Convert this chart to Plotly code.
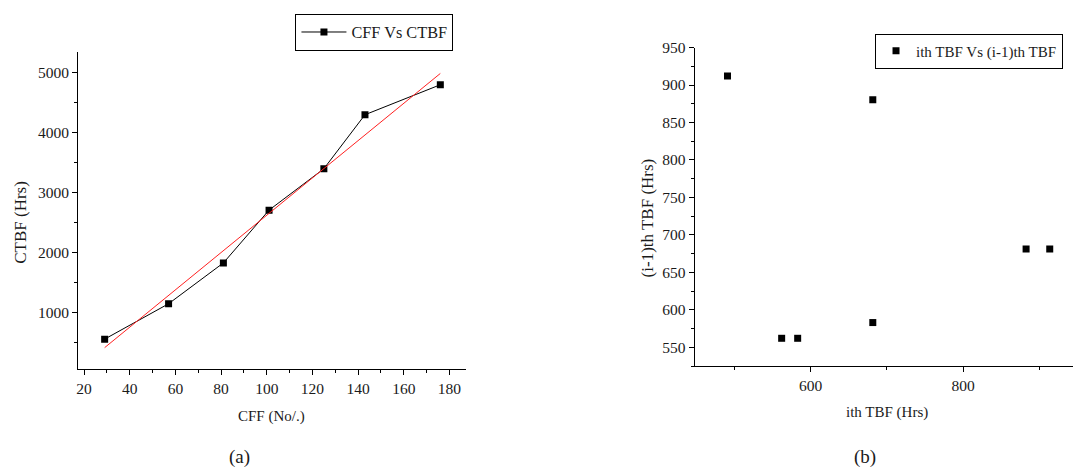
import numpy as np
import plotly.graph_objects as go

# ---- data ----
cff = [29, 57, 81, 101, 125, 143, 176]
ctbf = [560, 1150, 1830, 2710, 3400, 4300, 4800]

tbf_i = [491, 562, 583, 681.5, 681.5, 882.5, 913.5]
tbf_prev = [912, 562, 562, 880.5, 583, 681, 681]

W, H = 1073, 469
FONT = "Liberation Serif"
TXT = "#1a1a1a"
TICK_FS = 15.5
FS = 15


def px(x):
    return x / W


def py(y):
    return 1 - y / H


slope, intercept = np.polyfit(cff, ctbf, 1)
fit_x = [cff[0], cff[-1]]
fit_y = [slope * v + intercept for v in fit_x]

fig = go.Figure()
fig.add_trace(go.Scatter(
    x=cff, y=ctbf, mode="lines+markers", name="CFF Vs CTBF",
    line=dict(color="black", width=1),
    marker=dict(symbol="square", size=7, color="black"),
    xaxis="x", yaxis="y", legend="legend"))
fig.add_trace(go.Scatter(
    x=fit_x, y=fit_y, mode="lines", showlegend=False,
    line=dict(color="#ff2020", width=1), xaxis="x", yaxis="y"))
fig.add_trace(go.Scatter(
    x=tbf_i, y=tbf_prev, mode="markers", name="ith TBF Vs (i-1)th TBF",
    marker=dict(symbol="square", size=7, color="black"),
    xaxis="x2", yaxis="y2", legend="legend2"))

axis_common = dict(
    showgrid=False, zeroline=False, showline=True, linecolor="black",
    linewidth=1, ticks="outside", ticklen=5, tickcolor="black", tickwidth=1,
    tickfont=dict(family=FONT, size=TICK_FS, color=TXT), mirror=False,
)

fig.update_layout(
    width=W, height=H, margin=dict(l=0, r=0, t=0, b=0),
    paper_bgcolor="white", plot_bgcolor="white",
    font=dict(family=FONT, size=FS, color=TXT),
    xaxis=dict(domain=[px(76.3), px(465)], range=[17.4, 187.3], anchor="y",
               tick0=20, dtick=20,
               minor=dict(dtick=10, ticks="outside", ticklen=3, tickcolor="black"),
               **axis_common),
    yaxis=dict(domain=[py(367.3), py(44)], range=[58, 5343], anchor="x",
               tick0=0, dtick=1000,
               minor=dict(dtick=500, ticks="outside", ticklen=3, tickcolor="black"),
               **axis_common),
    xaxis2=dict(domain=[px(694), 1.0], range=[448, 944], anchor="y2",
                tick0=0, dtick=200,
                minor=dict(dtick=100, ticks="outside", ticklen=3, tickcolor="black"),
                **axis_common),
    yaxis2=dict(domain=[py(364), py(39.3)], range=[525, 950], anchor="x2",
                tick0=0, dtick=50,
                minor=dict(dtick=25, ticks="outside", ticklen=3, tickcolor="black"),
                **axis_common),
    legend=dict(x=px(294), xanchor="left", y=py(5), yanchor="top",
                bordercolor="black", borderwidth=1, bgcolor="white",
                itemwidth=45,
                font=dict(family=FONT, size=16.3, color=TXT)),
    legend2=dict(x=px(1063), xanchor="right", y=py(25), yanchor="top",
                 bordercolor="black", borderwidth=1, bgcolor="white",
                 font=dict(family=FONT, size=FS, color=TXT)),
    showlegend=True,
)

annots = [
    dict(text="CFF (No/.)", x=px(270), y=py(415), textangle=0, size=15),
    dict(text="CTBF (Hrs)", x=px(19), y=py(217), textangle=-90, size=17),
    dict(text="(a)", x=px(238), y=py(457), textangle=0, size=19),
    dict(text="ith TBF (Hrs)", x=px(886.7), y=py(411.7), textangle=0, size=15),
    dict(text="(i-1)th TBF (Hrs)", x=px(646.7), y=py(213), textangle=-90, size=17),
    dict(text="(b)", x=px(865), y=py(457), textangle=0, size=19),
]
for a in annots:
    size = a.pop("size")
    fig.add_annotation(xref="paper", yref="paper", showarrow=False,
                       xanchor="center", yanchor="middle",
                       font=dict(family=FONT, size=size, color=TXT), **a)

fig.write_html("out.html", config={"displayModeBar": False},
               post_script="document.body.style.margin='0';"
                           "document.body.style.padding='0';")
